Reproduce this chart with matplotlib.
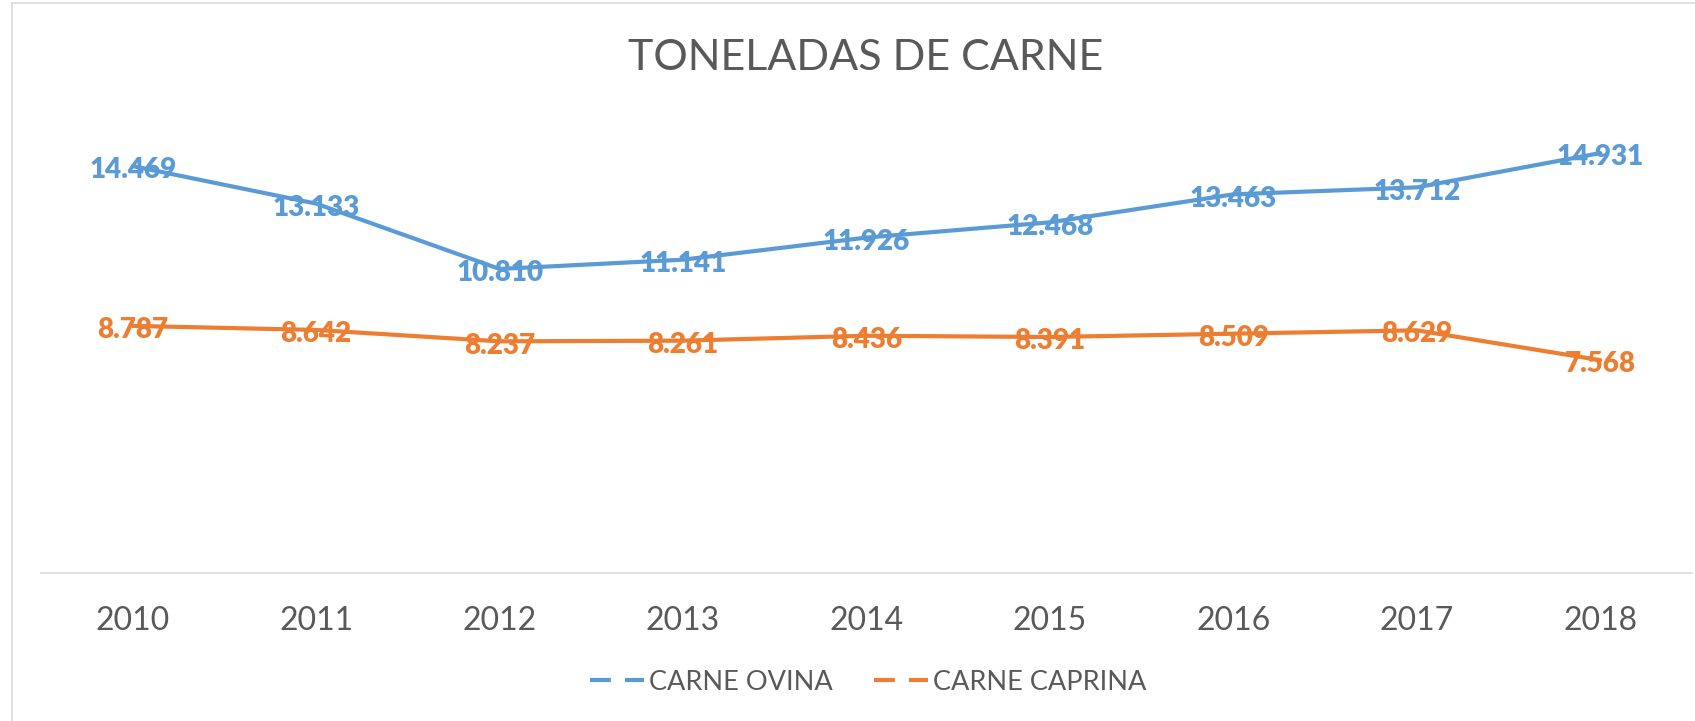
import matplotlib.pyplot as plt
from matplotlib.lines import Line2D

years = ['2010', '2011', '2012', '2013', '2014', '2015', '2016', '2017', '2018']
ovina = [14469, 13133, 10810, 11141, 11926, 12468, 13463, 13712, 14931]
caprina = [8787, 8642, 8237, 8261, 8436, 8391, 8509, 8629, 7568]
series_names = ['CARNE OVINA', 'CARNE CAPRINA']

blue = '#5B9BD5'
orange = '#ED7D31'
grey = '#595959'

plt.rcParams['font.family'] = ['Lato', 'DejaVu Sans']


def fmt(v):
    # portuguese thousands separator
    return f"{v:,}".replace(',', '.')


fig = plt.figure(figsize=(16.95, 7.21), dpi=100)
ax = fig.add_axes([41 / 1695, 1 - 573 / 721, 1651 / 1695, 450 / 721])

x = list(range(len(years)))
ax.plot(x, ovina, color=blue, lw=3, solid_capstyle='round', zorder=3)
ax.plot(x, caprina, color=orange, lw=3, solid_capstyle='round', zorder=3)

for i in x:
    ax.annotate(fmt(ovina[i]), (i, ovina[i]), xytext=(0, -3), textcoords='offset points',
                ha='center', va='center', fontsize=20, fontweight='heavy', color=blue, zorder=2)
    ax.annotate(fmt(caprina[i]), (i, caprina[i]), xytext=(0, -3), textcoords='offset points',
                ha='center', va='center', fontsize=20, fontweight='heavy', color=orange, zorder=2)

ax.set_xlim(-0.5, len(years) - 0.5)
ax.set_ylim(0, 16000)
ax.set_xticks(x)
ax.set_xticklabels(years, fontsize=23, color=grey)
ax.tick_params(axis='x', length=0, pad=24)
ax.set_yticks([])
for s in ['top', 'right', 'left']:
    ax.spines[s].set_visible(False)
ax.spines['bottom'].set_color('#D9D9D9')
ax.spines['bottom'].set_linewidth(1.2)

fig.text(866 / 1695, 1 - 58 / 721, 'TONELADAS DE CARNE', ha='center', va='center',
         fontsize=31, color=grey)

handles = [Line2D([], [], color=blue, lw=3, dashes=(5, 3.4)),
           Line2D([], [], color=orange, lw=3, dashes=(5, 3.4))]
fig.legend(handles, series_names, loc='center', bbox_to_anchor=(868 / 1695, 1 - 682 / 721),
           ncol=2, frameon=False, fontsize=19.5, handlelength=2.0, handletextpad=0.2,
           columnspacing=1.5, labelcolor=grey)

# chart frame (left and top edges visible in the original)
fig.add_artist(Line2D([12 / 1695, 12 / 1695], [0, 1 - 3 / 721], transform=fig.transFigure,
                      color='#D9D9D9', lw=1.2))
fig.add_artist(Line2D([12 / 1695, 1], [1 - 3 / 721, 1 - 3 / 721], transform=fig.transFigure,
                      color='#D9D9D9', lw=1.2))

fig.savefig('out.png', dpi=100)
